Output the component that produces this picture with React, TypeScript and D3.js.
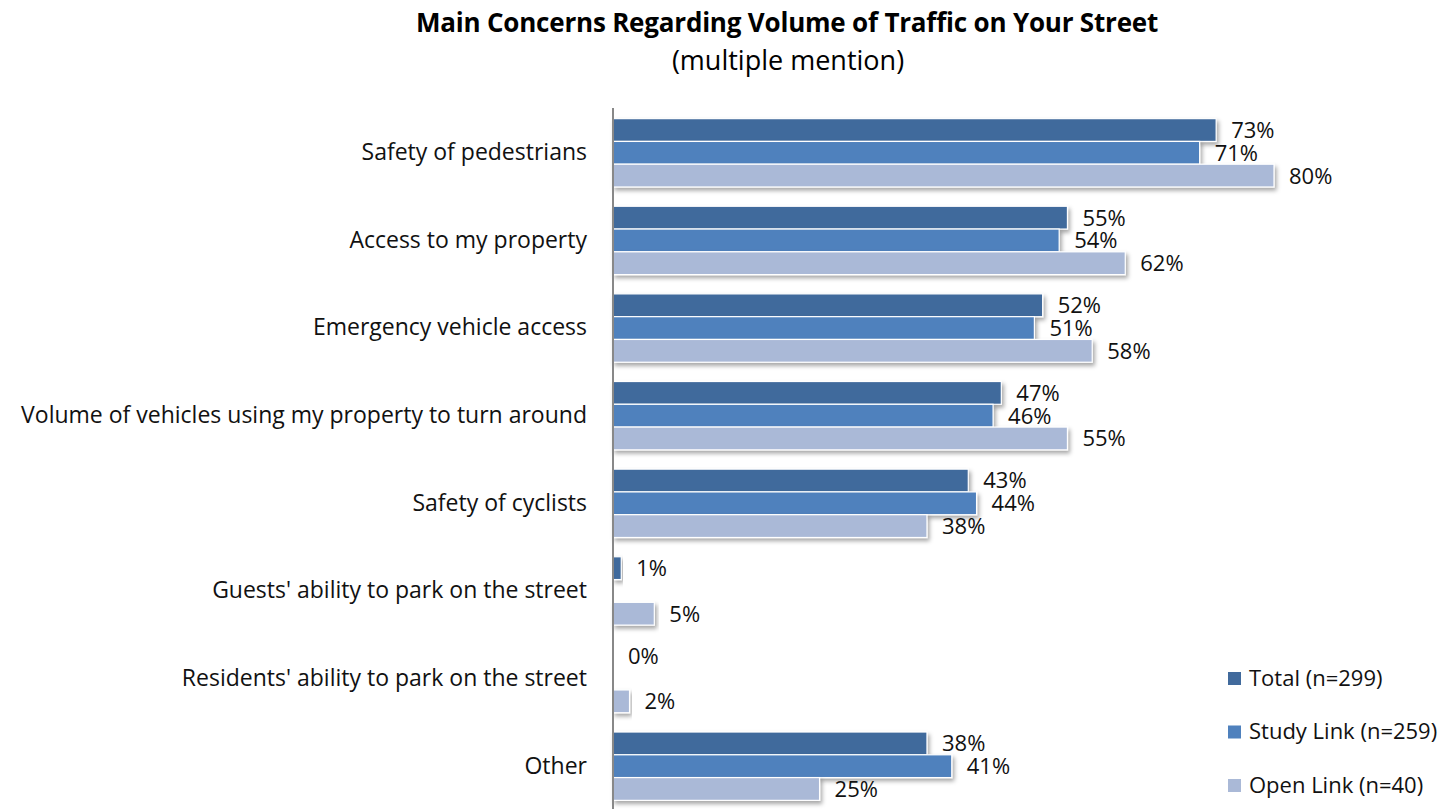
import React, { useEffect, useRef } from 'react';
import * as d3 from 'd3';

const categories = [
  'Safety of pedestrians',
  'Access to my property',
  'Emergency vehicle access',
  'Volume of vehicles using my property to turn around',
  'Safety of cyclists',
  "Guests' ability to park on the street",
  "Residents' ability to park on the street",
  'Other',
];

const seriesNames = ['Total (n=299)', 'Study Link (n=259)', 'Open Link (n=40)'];
const totalValues = [73, 55, 52, 47, 43, 1, 0, 38];
const studyLinkValues: (number | null)[] = [71, 54, 51, 46, 44, null, null, 41];
const openLinkValues = [80, 62, 58, 55, 38, 5, 2, 25];
const colors = ['#416A9C', '#4F81BD', '#AAB9D7'];

const App: React.FC = () => {
  const svgRef = useRef<SVGSVGElement>(null);

  useEffect(() => {
    if (!svgRef.current) return;
    const svg = d3.select(svgRef.current);
    svg.selectAll('*').remove();

    const height = 809;
    const left = 613;
    const font = "'Open Sans', sans-serif";

    const defs = svg.append('defs');
    const f = defs.append('filter').attr('id', 'shadow')
      .attr('x', '-5%').attr('y', '-30%').attr('width', '115%').attr('height', '180%');
    f.append('feDropShadow').attr('dx', 2).attr('dy', 3).attr('stdDeviation', 2)
      .attr('flood-color', '#000').attr('flood-opacity', 0.35);

    const x = d3.scaleLinear().domain([0, 80]).range([left, 1274]);
    const y0 = d3.scaleBand<string>().domain(categories).range([109, 810]).paddingInner(0.22).paddingOuter(0.11);
    const y1 = d3.scaleBand<number>().domain([0, 1, 2]).range([0, y0.bandwidth()]);

    // title
    svg.append('text').attr('x', 787).attr('y', 32).attr('text-anchor', 'middle')
      .style('font-family', font).style('font-weight', 'bold').style('font-size', '26px')
      .style('letter-spacing', '-0.2px')
      .text('Main Concerns Regarding Volume of Traffic on Your Street');
    svg.append('text').attr('x', 788).attr('y', 70).attr('text-anchor', 'middle')
      .style('font-family', font).style('font-size', '27px')
      .text('(multiple mention)');

    const series = [totalValues, studyLinkValues, openLinkValues];

    const g = svg.append('g');
    categories.forEach((c, ci) => {
      series.forEach((vals, si) => {
        const v = vals[ci];
        if (v === null || v === undefined) return;
        const yy = (y0(c) ?? 0) + (y1(si) ?? 0);
        if (v > 0) {
          g.append('rect')
            .attr('x', x(0)).attr('y', yy)
            .attr('width', x(v) - x(0)).attr('height', y1.bandwidth())
            .attr('fill', colors[si]).attr('stroke', '#fff').attr('stroke-width', 1.2)
            .attr('filter', 'url(#shadow)');
        }
        g.append('text')
          .attr('x', x(v) + 15).attr('y', yy + y1.bandwidth() / 2)
          .attr('dy', '0.36em')
          .style('font-family', font).style('font-size', '22px').attr('fill', '#111')
          .text(`${v}%`);
      });
    });

    // axis
    const axis = svg.append('g').attr('transform', `translate(${left},0)`)
      .call(d3.axisLeft(y0).tickSize(0).tickPadding(26));
    axis.select('.domain').attr('stroke', '#888').attr('stroke-width', 2)
      .attr('d', `M0,108V${height}`);
    axis.selectAll('text')
      .style('font-family', font).style('font-size', '23px').attr('fill', '#111');

    // legend
    const legend = svg.append('g');
    seriesNames.forEach((n, i) => {
      const ly = 678 + i * 53.5;
      legend.append('rect').attr('x', 1228).attr('y', ly - 6).attr('width', 13).attr('height', 13)
        .attr('fill', colors[i]);
      legend.append('text').attr('x', 1249).attr('y', ly).attr('dy', '0.36em')
        .style('font-family', font).style('font-size', '22px').attr('fill', '#111')
        .text(n);
    });
  }, []);

  return (
    <div style={{ position: 'absolute', left: 0, top: 0 }}>
      <svg ref={svgRef} width={1455} height={809} style={{ display: 'block', background: '#fff' }} />
    </div>
  );
};

export default App;
